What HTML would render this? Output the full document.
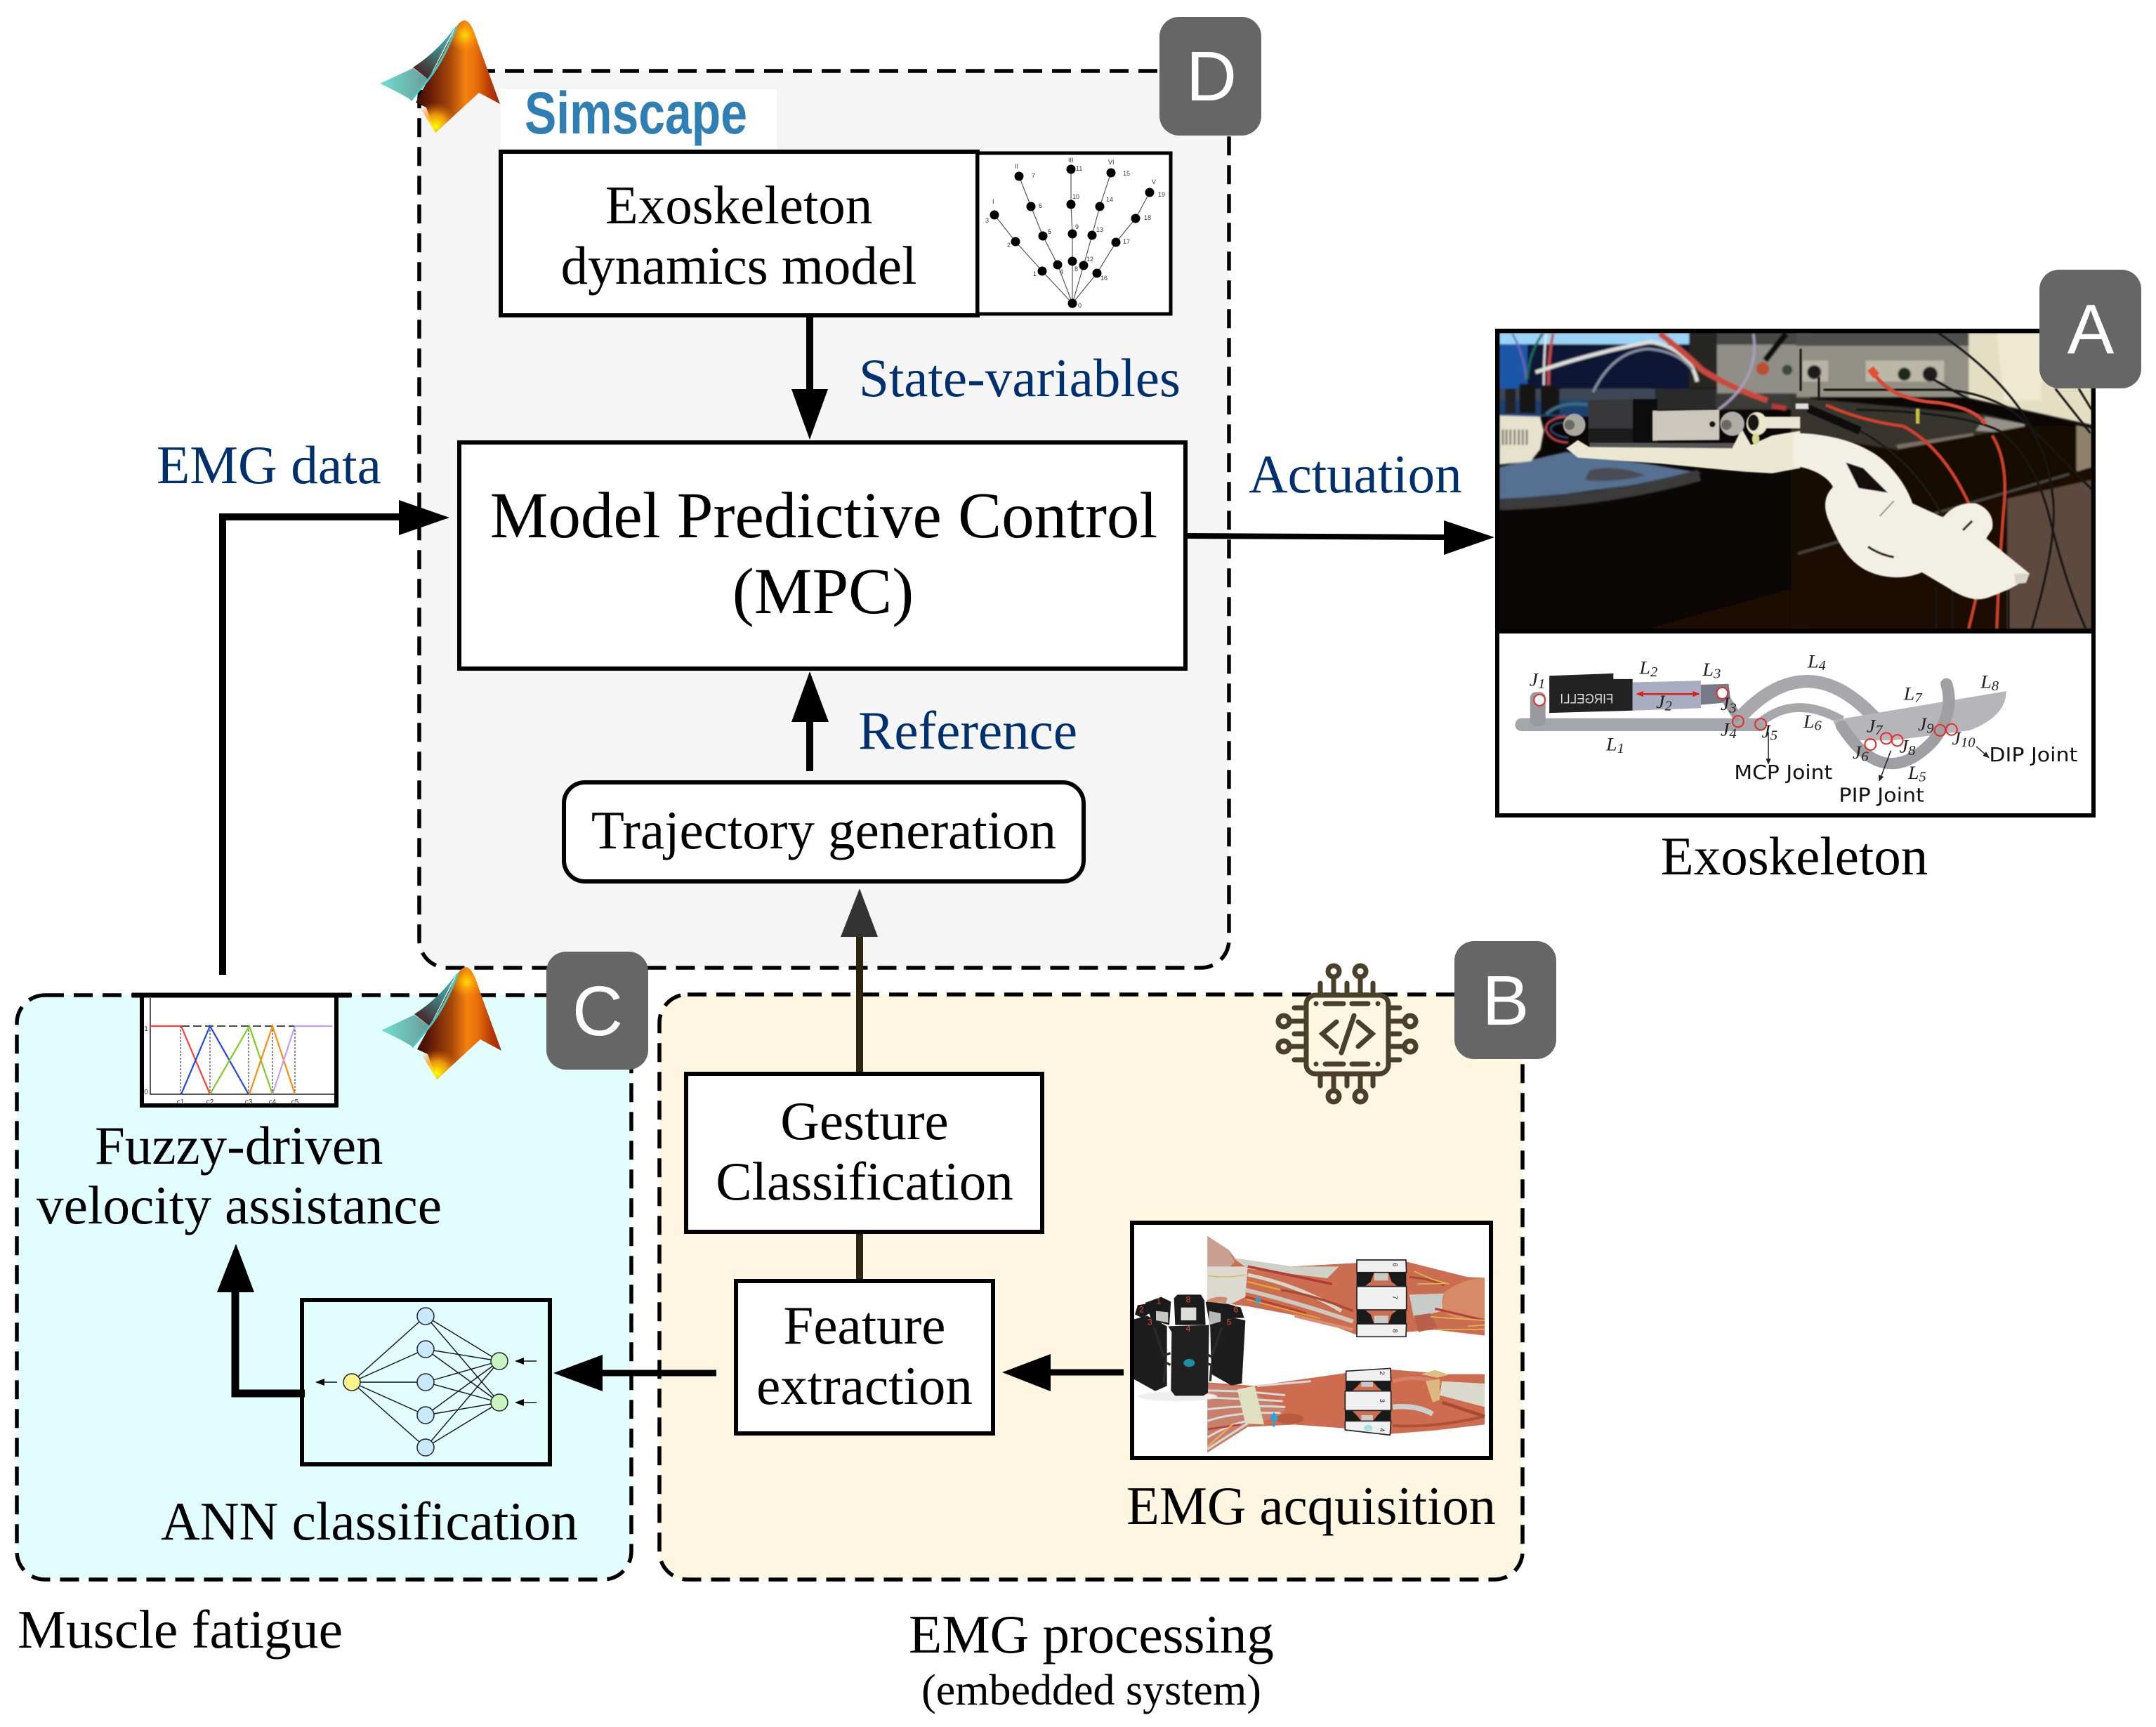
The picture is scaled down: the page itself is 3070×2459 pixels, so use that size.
<!DOCTYPE html>
<html><head><meta charset="utf-8"><style>
html,body{margin:0;padding:0;background:#fff}
svg{display:block}
text{font-family:"Liberation Serif",serif;fill:#000}
.t{font-size:77px}
.b{font-size:77px;fill:#00306e}
.g{font-family:"Liberation Sans",sans-serif;font-size:100px;fill:#fff;text-anchor:middle}
.m{font-family:"Liberation Serif",serif;font-style:italic;font-size:46px;fill:#222}
.j{font-family:"DejaVu Sans",sans-serif;font-size:48px;fill:#111}
.n{font-family:"Liberation Sans",sans-serif;font-size:9px;fill:#333}
.c{font-family:"Liberation Sans",sans-serif;font-size:10px;fill:#333;text-anchor:middle}
.r{font-family:"Liberation Sans",sans-serif;font-size:36px;fill:#e24a3a;text-anchor:middle}
.p{font-family:"Liberation Sans",sans-serif;font-size:28px;fill:#111;text-anchor:middle}
</style></head><body>
<svg xmlns="http://www.w3.org/2000/svg" width="3070" height="2459" viewBox="0 0 3070 2459">
<defs>
<linearGradient id="mg" gradientUnits="userSpaceOnUse" x1="590" x2="712" y1="0" y2="0"><stop offset="0" stop-color="#300c06"/><stop offset=".18" stop-color="#651c06"/><stop offset=".42" stop-color="#a8480a"/><stop offset=".6" stop-color="#f58210"/><stop offset=".72" stop-color="#e86f0a"/><stop offset=".88" stop-color="#b63a06"/><stop offset="1" stop-color="#a02a04"/></linearGradient>
<radialGradient id="my" gradientUnits="userSpaceOnUse" cx="620" cy="180" r="34"><stop offset="0" stop-color="#ffff00"/><stop offset=".5" stop-color="#ffa810" stop-opacity=".85"/><stop offset="1" stop-color="#e06a08" stop-opacity="0"/></radialGradient>
<radialGradient id="my2" gradientUnits="userSpaceOnUse" cx="662" cy="50" r="24"><stop offset="0" stop-color="#ffe000"/><stop offset="1" stop-color="#ff8a10" stop-opacity="0"/></radialGradient>
<linearGradient id="mt" gradientUnits="userSpaceOnUse" x1="541" x2="610" y1="0" y2="0"><stop offset="0" stop-color="#70e0d2"/><stop offset="1" stop-color="#6a9a98"/></linearGradient>
<linearGradient id="mw" gradientUnits="userSpaceOnUse" x1="600" y1="110" x2="640" y2="60"><stop offset="0" stop-color="#4a1f20"/><stop offset=".55" stop-color="#3f6f70"/><stop offset="1" stop-color="#3fa5a5"/></linearGradient>
<filter id="bl" x="-5%" y="-5%" width="110%" height="110%"><feGaussianBlur stdDeviation="4"/></filter>
<filter id="bs"><feGaussianBlur stdDeviation="2"/></filter>
<path id="mb" d="M661 29C668 29 674 40 680 60L712 148L682 132L620 189L607 153L592 146L610 113C625 88 640 55 650 38Q655 30 661 29Z"/>
<g id="matlab">
<path d="M541 119L588 97L610 113L585 142Q565 130 541 119Z" fill="url(#mt)"/>
<path d="M588 96Q625 72 648 38L610 113Z" fill="url(#mw)"/>
<use href="#mb" fill="url(#mg)"/>
<path d="M595 148L620 189L665 147L630 140Z" fill="url(#my)"/>
<use href="#mb" fill="url(#my2)"/>
<path d="M585 143L610 113Q632 85 650 38" fill="none" stroke="#4cc4c0" stroke-width="3"/>
</g>
</defs>

<!-- panels -->
<rect x="597" y="101" width="1153" height="1277" rx="40" fill="#f5f5f5" stroke="#000" stroke-width="5.5" stroke-dasharray="27 14"/>
<rect x="24" y="1417" width="875" height="832" rx="40" fill="#e2fdfe" stroke="#000" stroke-width="5.5" stroke-dasharray="27 14"/>
<rect x="939" y="1416" width="1229" height="833" rx="40" fill="#fef6e0" stroke="#000" stroke-width="5.5" stroke-dasharray="27 14"/>

<!-- Simscape -->
<rect x="713" y="127" width="393" height="88" fill="#fff"/>
<text x="747" y="190" textLength="317" lengthAdjust="spacingAndGlyphs" style="font-family:'Liberation Sans',sans-serif;font-weight:bold;font-size:84px;fill:#2f7fb5">Simscape</text>

<!-- Exoskeleton dynamics -->
<rect x="713" y="216" width="679" height="233" fill="#fff" stroke="#000" stroke-width="6"/>
<text class="t" x="1052" y="318" text-anchor="middle">Exoskeleton</text>
<text class="t" x="1052" y="404" text-anchor="middle">dynamics model</text>
<rect x="1392" y="218" width="275" height="229" fill="#fff" stroke="#000" stroke-width="5"/>
<g transform="translate(-5 0)">
<g stroke="#555" stroke-width="1.2" fill="none">
<polyline points="1532,432 1489,386 1451,344 1421,306"/>
<polyline points="1532,432 1511,377 1490,336 1473,294 1456,251"/>
<polyline points="1532,432 1532,372 1532,333 1530,291 1530,241"/>
<polyline points="1532,432 1548,378 1560,335 1571,294 1587,246"/>
<polyline points="1532,432 1567,389 1594,345 1622,311 1642,274"/>
</g>
<g fill="#000">
<circle cx="1532" cy="432" r="6.5"/><circle cx="1489" cy="386" r="6.5"/><circle cx="1451" cy="344" r="6.5"/><circle cx="1421" cy="306" r="6.5"/><circle cx="1511" cy="377" r="6.5"/><circle cx="1490" cy="336" r="6.5"/><circle cx="1473" cy="294" r="6.5"/><circle cx="1456" cy="251" r="6.5"/><circle cx="1532" cy="372" r="6.5"/><circle cx="1532" cy="333" r="6.5"/><circle cx="1530" cy="291" r="6.5"/><circle cx="1530" cy="241" r="6.5"/><circle cx="1548" cy="378" r="6.5"/><circle cx="1560" cy="335" r="6.5"/><circle cx="1571" cy="294" r="6.5"/><circle cx="1587" cy="246" r="6.5"/><circle cx="1567" cy="389" r="6.5"/><circle cx="1594" cy="345" r="6.5"/><circle cx="1622" cy="311" r="6.5"/><circle cx="1642" cy="274" r="6.5"/>
</g>
<text class="n" x="1418" y="290">I</text><text class="n" x="1450" y="240">II</text><text class="n" x="1526" y="231">III</text><text class="n" x="1583" y="234">VI</text><text class="n" x="1645" y="262">V</text>
<text class="n" x="1408" y="317">3</text><text class="n" x="1439" y="352">2</text><text class="n" x="1476" y="393">1</text><text class="n" x="1514" y="390">4</text><text class="n" x="1535" y="386">8</text><text class="n" x="1552" y="372">12</text><text class="n" x="1572" y="399">16</text><text class="n" x="1497" y="333">5</text><text class="n" x="1484" y="296">6</text><text class="n" x="1474" y="253">7</text><text class="n" x="1536" y="326">9</text><text class="n" x="1532" y="283">10</text><text class="n" x="1537" y="243">11</text><text class="n" x="1566" y="330">13</text><text class="n" x="1580" y="287">14</text><text class="n" x="1604" y="250">15</text><text class="n" x="1604" y="347">17</text><text class="n" x="1634" y="313">18</text><text class="n" x="1654" y="280">19</text><text class="n" x="1540" y="438">0</text>
</g>

<!-- logos -->
<use href="#matlab"/>
<use href="#matlab" transform="translate(2 1348)"/>

<!-- state arrow -->
<line x1="1153" y1="449" x2="1153" y2="565" stroke="#000" stroke-width="10"/>
<polygon points="1127,554 1179,554 1153,626" fill="#000"/>
<text class="b" x="1223" y="564" textLength="458" lengthAdjust="spacingAndGlyphs">State-variables</text>

<!-- MPC -->
<rect x="654" y="630" width="1034" height="322" fill="#fff" stroke="#000" stroke-width="6"/>
<text x="1173" y="765" text-anchor="middle" style="font-size:93px">Model Predictive Control</text>
<text x="1172" y="873" text-anchor="middle" style="font-size:93px">(MPC)</text>

<!-- reference -->
<line x1="1153" y1="1098" x2="1153" y2="1020" stroke="#000" stroke-width="10"/>
<polygon points="1127,1028 1180,1028 1153,956" fill="#000"/>
<text class="b" x="1222" y="1066">Reference</text>

<rect x="803" y="1114" width="740" height="141" rx="30" fill="#fff" stroke="#000" stroke-width="6"/>
<text class="t" x="1173" y="1208" text-anchor="middle">Trajectory generation</text>

<!-- EMG data -->
<polyline points="317,1388 317,736 580,736" fill="none" stroke="#000" stroke-width="10"/>
<polygon points="568,712 568,762 640,737" fill="#000"/>
<text class="b" x="223" y="688" textLength="320" lengthAdjust="spacingAndGlyphs">EMG data</text>

<!-- Actuation -->
<line x1="1688" y1="763" x2="2060" y2="765" stroke="#000" stroke-width="8"/>
<polygon points="2056,741 2056,790 2128,765" fill="#000"/>
<text class="b" x="1778" y="701">Actuation</text>

<!-- Gesture connector -->
<line x1="1224" y1="1527" x2="1224" y2="1325" stroke="#2e2510" stroke-width="10"/>
<polygon points="1197,1334 1250,1334 1224,1265" fill="#333"/>
<line x1="1224" y1="1752" x2="1224" y2="1823" stroke="#2e2510" stroke-width="10"/>
<rect x="977" y="1529" width="507" height="225" fill="#fff" stroke="#000" stroke-width="6"/>
<text class="t" x="1231" y="1622" text-anchor="middle">Gesture</text>
<text class="t" x="1231" y="1708" text-anchor="middle">Classification</text>
<rect x="1048" y="1824" width="366" height="217" fill="#fff" stroke="#000" stroke-width="6"/>
<text class="t" x="1231" y="1913" text-anchor="middle">Feature</text>
<text class="t" x="1231" y="1999" text-anchor="middle">extraction</text>

<!-- horizontal arrows -->
<line x1="1600" y1="1954" x2="1490" y2="1954" stroke="#000" stroke-width="9"/>
<polygon points="1496,1928 1496,1981 1427,1954" fill="#000"/>
<line x1="1020" y1="1955" x2="850" y2="1955" stroke="#000" stroke-width="9"/>
<polygon points="858,1929 858,1981 788,1955" fill="#000"/>

<!-- ANN -->
<rect x="430" y="1851" width="353" height="234" fill="#e2fdfe" stroke="#000" stroke-width="6"/>
<polyline points="434,1984 335,1984 335,1830" fill="none" stroke="#000" stroke-width="11"/>
<polygon points="309,1840 362,1840 336,1771" fill="#000"/>
<g stroke="#111" stroke-width="1.4">
<line x1="501" y1="1968" x2="606" y2="1874"/><line x1="501" y1="1968" x2="606" y2="1921"/><line x1="501" y1="1968" x2="606" y2="1968"/><line x1="501" y1="1968" x2="606" y2="2015"/><line x1="501" y1="1968" x2="606" y2="2061"/>
<line x1="711" y1="1938" x2="606" y2="1874"/><line x1="711" y1="1938" x2="606" y2="1921"/><line x1="711" y1="1938" x2="606" y2="1968"/><line x1="711" y1="1938" x2="606" y2="2015"/><line x1="711" y1="1938" x2="606" y2="2061"/>
<line x1="711" y1="1997" x2="606" y2="1874"/><line x1="711" y1="1997" x2="606" y2="1921"/><line x1="711" y1="1997" x2="606" y2="1968"/><line x1="711" y1="1997" x2="606" y2="2015"/><line x1="711" y1="1997" x2="606" y2="2061"/>
<line x1="764" y1="1938" x2="740" y2="1938"/><line x1="764" y1="1997" x2="740" y2="1997"/><line x1="480" y1="1968" x2="456" y2="1968"/>
</g>
<polygon points="733,1938 746,1933 746,1943" fill="#000"/><polygon points="733,1997 746,1992 746,2002" fill="#000"/><polygon points="449,1968 462,1963 462,1973" fill="#000"/>
<g stroke="#223" stroke-width="1.5" fill="#c8e8fb">
<circle cx="606" cy="1874" r="12"/><circle cx="606" cy="1921" r="12"/><circle cx="606" cy="1968" r="12"/><circle cx="606" cy="2015" r="12"/><circle cx="606" cy="2061" r="12"/>
<circle cx="501" cy="1968" r="12" fill="#fbf58c"/><circle cx="711" cy="1938" r="12" fill="#c8f5c0"/><circle cx="711" cy="1997" r="12" fill="#c8f5c0"/>
</g>
<text class="t" x="229" y="2192" textLength="594" lengthAdjust="spacingAndGlyphs">ANN classification</text>

<!-- Fuzzy -->
<rect x="202" y="1417" width="277" height="157" fill="#fff"/>
<line x1="188" y1="1417" x2="500" y2="1417" stroke="#000" stroke-width="7"/>
<polyline points="202,1417 202,1574 479,1574 479,1417" fill="none" stroke="#000" stroke-width="6"/>
<polyline points="214,1421 214,1558 476,1558" fill="none" stroke="#222" stroke-width="1.5"/>
<line x1="258" y1="1461" x2="420" y2="1461" stroke="#111" stroke-width="1.5" stroke-dasharray="12 5"/>
<g stroke="#222" stroke-width="1" stroke-dasharray="3 2"><line x1="257" y1="1461" x2="257" y2="1558"/><line x1="299" y1="1461" x2="299" y2="1558"/><line x1="354" y1="1461" x2="354" y2="1558"/><line x1="388" y1="1461" x2="388" y2="1558"/><line x1="420" y1="1461" x2="420" y2="1558"/></g>
<g fill="none" stroke-width="2.2">
<polyline stroke="#ff3b3b" points="214,1461 258,1461 299,1558"/>
<polyline stroke="#2244ee" points="258,1558 299,1461 354,1558"/>
<polyline stroke="#7ccc22" points="299,1558 355,1461 388,1558"/>
<polyline stroke="#ff8c10" points="355,1558 388,1461 420,1558"/>
<polyline stroke="#c49cf8" points="388,1558 420,1461 473,1461"/>
</g>
<text class="c" x="257" y="1572">c1</text><text class="c" x="299" y="1572">c2</text><text class="c" x="354" y="1572">c3</text><text class="c" x="388" y="1572">c4</text><text class="c" x="420" y="1572">c5</text>
<text class="c" x="208" y="1468">1</text><text class="c" x="208" y="1558">0</text>
<text class="t" x="135" y="1657">Fuzzy-driven</text>
<text class="t" x="52" y="1742" textLength="577" lengthAdjust="spacingAndGlyphs">velocity assistance</text>

<!-- chip icon -->
<g fill="none" stroke="#4a3f28" stroke-width="7" stroke-linecap="round">
<rect x="1860" y="1417" width="117" height="112" rx="13"/>
<path d="M1903 1455L1883 1472L1903 1490M1934 1455L1954 1472L1934 1490M1928 1446L1910 1499"/>
<path d="M1843 1435H1860M1843 1472H1860M1843 1509H1860M1993 1435H1977M1993 1472H1977M1993 1509H1977"/>
<path d="M1837 1454H1860M1837 1490H1860M2000 1454H1977M2000 1490H1977"/>
<circle cx="1828" cy="1454" r="8"/><circle cx="1828" cy="1490" r="8"/><circle cx="2008" cy="1454" r="8"/><circle cx="2008" cy="1490" r="8"/>
<path d="M1880 1400V1417M1918 1400V1417M1955 1400V1417M1880 1546V1529M1918 1546V1529M1955 1546V1529"/>
<path d="M1899 1392V1417M1937 1392V1417M1899 1552V1529M1937 1552V1529"/>
<circle cx="1899" cy="1383" r="8"/><circle cx="1937" cy="1383" r="8"/><circle cx="1899" cy="1561" r="8"/><circle cx="1937" cy="1561" r="8"/>
<path d="M1887 1429H1913M1925 1429H1948M1887 1515H1913M1925 1515H1948"/>
</g>
<g fill="#4a3f28"><circle cx="1874" cy="1429" r="3.5"/><circle cx="1962" cy="1429" r="3.5"/><circle cx="1874" cy="1515" r="3.5"/><circle cx="1962" cy="1515" r="3.5"/></g>

<!-- EMG acquisition -->
<rect x="1612" y="1741" width="511" height="335" fill="#fff" stroke="#000" stroke-width="6"/>
<g transform="translate(1610 1740) scale(.33333)">
<polygon points="328,60 420,120 445,155 690,190 960,175 1180,170 1440,235 1512,238 1512,485 1300,460 1180,470 960,480 790,415 500,360 420,350 328,370" fill="#cb6d50"/>
<polygon points="328,685 530,700 920,645 1110,630 1360,650 1512,650 1512,865 1300,890 1110,905 900,880 700,865 500,875 328,985" fill="#cd6c4e"/>
<g>
<path d="M328 60L420 120L445 170L420 195L328 190Z" fill="#c9a090"/>
<polygon points="328,190 500,190 490,320 430,350 328,370" fill="#dcdad0"/>
<polygon points="440,155 690,190 890,190 840,240 500,200" fill="#cfd1c6"/>
<path d="M330 345Q370 325 410 335" stroke="#d08a70" stroke-width="24" fill="none"/>
<g fill="none">
<path d="M500 190Q700 230 860 265" stroke="#b23c34" stroke-width="11"/>
<path d="M500 225Q720 270 900 380" stroke="#d7d5ca" stroke-width="15"/>
<path d="M490 290Q700 340 950 425" stroke="#ccc9bd" stroke-width="18"/>
<path d="M500 255L640 290" stroke="#dfae2e" stroke-width="7"/>
<path d="M490 320Q620 350 750 390" stroke="#b8413a" stroke-width="10"/>
<path d="M495 330Q650 370 810 412" stroke="#dfae2e" stroke-width="5"/>
<path d="M330 230Q420 240 490 225" stroke="#d8b840" stroke-width="4"/>
<path d="M640 290Q780 310 950 380" stroke="#a94a34" stroke-width="10"/>
<path d="M700 400Q820 430 950 460" stroke="#dc8d72" stroke-width="14"/>
<path d="M1190 235Q1270 240 1340 270" stroke="#aa4a34" stroke-width="9"/>
</g>
<polygon points="1190,310 1340,305 1330,380 1210,410" fill="#c8ccc8"/>
<path d="M1340 300Q1420 240 1512 240V420Q1380 420 1340 385Q1320 340 1340 300Z" fill="#d68a68"/>
<polygon points="1210,400 1280,390 1310,450 1230,470" fill="#b8604a"/>
<path d="M1300 370L1512 420" stroke="#b8413a" stroke-width="10" fill="none"/>
<path d="M1210 210L1290 245L1360 265M1225 265L1350 262M1280 405L1512 420M1310 460L1512 458M1440 445L1512 440" stroke="#dcb84c" stroke-width="5" fill="none"/>

<polygon points="328,690 480,705 660,800 640,830 500,870 328,985" fill="#c9806a"/>
<g fill="none" stroke="#d5d9da" stroke-width="9">
<path d="M328 720Q480 720 660 740"/><path d="M328 750Q480 755 650 765"/><path d="M328 800Q480 780 660 790"/><path d="M328 850Q440 810 640 815"/><path d="M328 920Q430 860 500 850"/><path d="M328 970Q420 910 500 860"/><path d="M540 700Q660 690 770 680"/>
</g>
<polygon points="455,715 530,700 570,865 490,860" fill="#dfe0c2"/>
<path d="M330 885L470 865" stroke="#b8413a" stroke-width="8" fill="none"/>
<path d="M328 960L440 860" stroke="#e0b060" stroke-width="7" fill="none"/>
<ellipse cx="680" cy="840" rx="60" ry="22" fill="#b85a3e"/>
<path d="M1120 680Q1220 650 1330 690" stroke="#d88068" stroke-width="16" fill="none"/>
<polygon points="1330,680 1512,690 1512,790 1320,740" fill="#d9d9cc"/>
<polygon points="1260,680 1320,670 1320,760 1290,770" fill="#dcb880"/>
<polygon points="1240,650 1300,632 1360,652 1310,665" fill="#dcc080"/>
<path d="M1120 790Q1220 780 1290 820" stroke="#c8d0d0" stroke-width="22" fill="none"/>
<path d="M1120 870Q1300 880 1512 830" stroke="#ad5138" stroke-width="12" fill="none"/>
<path d="M1330 770L1512 830" stroke="#a94a34" stroke-width="14" fill="none"/>
</g>
<g fill="#1a1a1a">
<path d="M965 215H1040L1025 255L1000 275H965Z M1177 215H1100L1115 255L1140 275H1177Z M965 435H1040L1025 395L1000 375H965Z M1177 435H1100L1115 395L1140 375H1177Z"/>
<path d="M918 682H985L965 705L945 722H918Z M1112 682H1035L1055 705L1075 722H1112Z M915 850H985L965 825L945 805H915Z M1112 850H1035L1055 825L1075 805H1112Z"/>
</g>
<rect x="1040" y="215" width="60" height="35" fill="#c9c9c6"/><rect x="1040" y="400" width="60" height="35" fill="#c9c9c6"/>
<rect x="985" y="682" width="50" height="22" fill="#c9c9c6"/><rect x="985" y="825" width="50" height="25" fill="#c9c9c6"/>
<g fill="#f0f0f0" stroke="#222" stroke-width="5">
<path d="M966 162H1176L1178 215H966Z"/><rect x="966" y="275" width="212" height="100"/><path d="M966 435H1178L1176 490H966Z"/>
<path d="M920 637L1110 625L1112 680H920Z"/><rect x="916" y="722" width="196" height="83"/><path d="M916 850H1112L1108 910L916 888Z"/>
</g>
<ellipse cx="1015" cy="880" rx="18" ry="14" fill="#a8e0e8"/>
<text class="p" transform="translate(1120 183) rotate(90)" x="0" y="0">6</text>
<text class="p" transform="translate(1120 322) rotate(90)" x="0" y="0">7</text>
<text class="p" transform="translate(1120 465) rotate(90)" x="0" y="0">8</text>
<text class="p" transform="translate(1065 645) rotate(90)" x="0" y="0">2</text>
<text class="p" transform="translate(1065 763) rotate(90)" x="0" y="0">3</text>
<text class="p" transform="translate(1065 888) rotate(90)" x="0" y="0">4</text>
<ellipse cx="200" cy="745" rx="170" ry="20" fill="#eee" filter="url(#bs)"/>
<g fill="#1b1b1b">
<polygon points="62,345 130,320 172,340 165,440 90,420"/>
<polygon points="18,395 30,355 65,350 80,390 50,410"/>
<polygon points="185,325 200,310 300,310 315,335 320,440 190,440"/>
<polygon points="320,340 415,350 470,365 485,410 430,410 340,450"/>
</g>
<rect x="215" y="365" width="65" height="55" fill="#dcdcd8"/>
<polygon points="108,380 160,385 160,430 108,420" fill="#c6c6c2"/>
<polygon points="335,380 385,390 385,425 335,440" fill="#b8b8b4"/>
<polygon points="15,415 70,400 155,445 155,700 105,722 15,672" fill="#1d1d1d"/>
<polygon points="340,450 420,405 490,420 475,690 430,698 345,650" fill="#1d1d1d"/>
<polygon points="160,445 335,440 330,730 310,742 190,742 172,720 175,470" fill="#202020"/>
<g fill="none" stroke="#2a2a2a" stroke-width="10"><path d="M100 450L140 570L170 560M390 450L345 575L325 565M140 690L150 600L170 610M340 680L345 610L325 605"/></g>
<ellipse cx="250" cy="602" rx="24" ry="17" fill="#1d8ea0"/>
<text class="r" x="120" y="350">1</text><text class="r" x="46" y="386">2</text><text class="r" x="82" y="440">3</text><text class="r" x="246" y="343">8</text><text class="r" x="246" y="468">4</text><text class="r" x="420" y="440">5</text><text class="r" x="450" y="386">6</text>
<path d="M543 360V325M530 340L543 322L556 340" stroke="#18a8e8" stroke-width="6" fill="none"/>
<path d="M612 875V822M596 845L612 820L628 845" stroke="#18a8e8" stroke-width="9" fill="none"/>
</g>
<text class="t" x="1604" y="2170" textLength="526" lengthAdjust="spacingAndGlyphs">EMG acquisition</text>

<!-- Exoskeleton photo -->
<rect x="2132" y="471" width="849" height="690" fill="#fff" stroke="#000" stroke-width="6"/>
<svg x="2135" y="474" width="843" height="422" viewBox="2135 474 843 422">
<rect x="2135" y="474" width="843" height="422" fill="#0b0706"/>
<!-- left background -->
<g transform="translate(2130 470) scale(.33333)">
<g filter="url(#bl)">
<polygon points="650,1275 1350,1080 1350,1275" fill="#1c0b06"/>
<rect x="15" y="12" width="815" height="50" fill="#9bd4f6"/>
<rect x="15" y="60" width="815" height="195" fill="#071634"/>
<rect x="15" y="60" width="120" height="190" fill="#1c56a8"/>
<rect x="15" y="250" width="700" height="55" fill="#3c4656"/>
<rect x="15" y="300" width="400" height="70" fill="#1f3f70"/>
<rect x="680" y="250" width="300" height="90" fill="#2c2c2c"/>
<rect x="825" y="12" width="130" height="235" fill="#262624"/>
<rect x="945" y="60" width="400" height="220" fill="#8f8f88"/>
<rect x="945" y="12" width="400" height="50" fill="#474744"/>
<rect x="940" y="270" width="400" height="70" fill="#3a3a38"/>
<path d="M15 585L300 520L640 570 880 610 600 660 300 700 15 725Z" fill="#566f92"/>
<path d="M400 600Q500 570 640 620 500 655 380 640Z" fill="#4a4c55"/>
<path d="M15 745Q480 730 870 620" fill="none" stroke="#3a3a3a" stroke-width="50"/>
<path d="M15 365L190 370L205 430L190 510L150 560L15 575Z" fill="#e6e2cd"/>
<g stroke="#555" stroke-width="7"><path d="M30 425V490M45 425V490M62 425V490M80 425V490M98 425V490M115 425V490M132 425V490"/></g>
<rect x="100" y="230" width="70" height="125" fill="#151515"/><rect x="192" y="235" width="80" height="125" fill="#151515"/><rect x="40" y="250" width="45" height="105" fill="#222"/>
<g fill="none">
<path d="M70 15Q120 100 130 210" stroke="#6a6ab0" stroke-width="8"/>
<path d="M200 15Q140 100 135 210" stroke="#1a6a5a" stroke-width="10"/>
<path d="M245 15Q225 100 225 235" stroke="#c84a4a" stroke-width="12"/>
<path d="M215 15Q205 100 205 235" stroke="#e8e8e8" stroke-width="8"/>
<path d="M170 180Q400 100 660 50Q830 80 860 220" stroke="#dfdfdc" stroke-width="16"/>
<path d="M415 265Q500 90 650 80Q780 90 840 170" stroke="#8c92a8" stroke-width="10"/>
<path d="M700 15Q800 90 880 170Q1010 250 1160 300" stroke="#c84a3c" stroke-width="24"/>
<path d="M1180 325L1240 335" stroke="#b83a30" stroke-width="22"/>
<path d="M950 340Q1130 210 1100 15" stroke="#a9a0c0" stroke-width="10"/>
<path d="M1240 15L1150 130" stroke="#111" stroke-width="26"/>
<path d="M215 360Q280 300 395 320" stroke="#3a6a80" stroke-width="14"/>
<path d="M300 370Q205 380 215 430Q240 480 310 480" stroke="#c84a4a" stroke-width="10"/>
<path d="M300 395Q230 395 235 430Q260 455 310 460" stroke="#30508a" stroke-width="8"/>
</g>
<circle cx="1140" cy="165" r="28" fill="#b85030"/><circle cx="1245" cy="170" r="22" fill="#3a4a38"/>
</g>
</g>
<!-- right background -->
<g transform="translate(2560 470) scale(.33333)">
<g filter="url(#bl)">
<rect x="-6" y="60" width="741" height="227" fill="#928f84"/>
<rect x="-6" y="12" width="741" height="55" fill="#4f4f4e"/>
<rect x="20" y="130" width="110" height="90" fill="#b8b4a4"/><rect x="290" y="130" width="335" height="90" fill="#bcb8a8"/>
<circle cx="70" cy="180" r="30" fill="#1e1e1e"/><circle cx="455" cy="188" r="28" fill="#1c2a1e"/><circle cx="565" cy="188" r="32" fill="#1f1f1f"/>
<polygon points="730,12 1255,12 1255,405 730,290" fill="#e4dec2"/>
<polygon points="850,12 1040,12 1040,300 880,300" fill="#efe9d2"/>
<polygon points="-30,285 800,360 975,400 950,445 420,515 -30,440" fill="#38342e"/>
<polygon points="800,370 975,402 940,440 760,430" fill="#96928a"/>
<polygon points="420,490 750,440 750,455 430,510" fill="#7c7066"/>
<polygon points="-30,440 420,510 975,410 1190,410 1190,560 1255,640 -30,970" fill="#120806"/>
<polygon points="1190,405 1255,420 1255,650 1190,600" fill="#8e806a"/>
<polygon points="-30,970 1255,585 1255,1275 -30,1275" fill="#1c0b06"/>
<polygon points="895,720 1255,640 1255,1275 895,1275" fill="#5d483e"/>
<path d="M0 955L1160 615" stroke="#4a4642" stroke-width="10" fill="none"/>
</g>
</g>
<!-- left foreground -->
<g transform="translate(2130 470) scale(.33333)" filter="url(#bs)">
<polygon points="395,300 590,295 590,482 395,482" fill="#38383b"/>
<polygon points="395,420 590,420 590,482 395,482" fill="#1b1b1c"/>
<rect x="585" y="295" width="105" height="195" fill="#0c0c0c"/>
<polygon points="670,345 955,340 955,470 670,472" fill="#cbc7bd"/>
<circle cx="925" cy="402" r="13" fill="#111"/>
<rect x="400" y="482" width="620" height="26" fill="#555"/>
<path d="M300 505L350 470L400 500L1010 505L1050 420L1090 490L1180 450L1300 430V590L1180 612L1060 605L900 590L700 570L350 545Z" fill="#ebe7d2"/>
<circle cx="335" cy="405" r="48" fill="#a8a89f"/><circle cx="315" cy="405" r="22" fill="#6a6a64"/>
<circle cx="1010" cy="400" r="52" fill="#aeaea6"/><circle cx="985" cy="405" r="22" fill="#6a6a64"/>
<ellipse cx="1115" cy="400" rx="45" ry="50" fill="#ebe6c8"/><ellipse cx="1100" cy="395" rx="24" ry="35" fill="#181818"/>
<ellipse cx="1110" cy="465" rx="16" ry="24" fill="#d8d88a"/>
<rect x="1150" y="370" width="150" height="50" fill="#e8e4d2"/>
</g>
<!-- right foreground -->
<g transform="translate(2560 470) scale(.33333)" filter="url(#bs)" fill="none">
<g stroke="#151515" stroke-width="9">
<path d="M110 255H640Q880 280 990 415Q1070 530 1090 720Q1110 900 1000 1275"/>
<path d="M250 340Q700 350 860 430Q1010 540 1075 800Q1150 1100 1230 1275"/>
<path d="M600 12Q880 200 1000 420L1255 680"/>
<path d="M1100 250L1250 440"/>
<path d="M1200 250L1255 340"/>
<path d="M660 1100V1275M590 1100V1275M900 1100V1275"/>
<path d="M12 80V260M90 200V300"/>
<path d="M560 200L720 290"/>
</g>
<path d="M45 335L265 430" stroke="#111" stroke-width="34"/>
<path d="M265 430Q500 560 620 800" stroke="#1a1a1a" stroke-width="9"/>
<path d="M325 185Q400 300 600 310Q760 335 800 400" stroke="#d84630" stroke-width="15"/>
<path d="M830 450Q900 560 880 760Q860 1000 850 1275" stroke="#c73f2c" stroke-width="14"/>
<path d="M120 320Q280 390 450 410Q620 500 730 740" stroke="#d0402c" stroke-width="14"/>
<path d="M760 1150L730 1275" stroke="#c73f2c" stroke-width="14"/>
<path d="M335 170L310 190" stroke="#e85030" stroke-width="40"/>
<path d="M512 335V400" stroke="#c8c040" stroke-width="16"/>
<path d="M-10 325L45 325" stroke="#ddd" stroke-width="24"/>
<path fill="#f2efe5" d="M-20 440C150 440 300 490 380 570C430 620 470 680 490 740L620 800C650 760 700 735 760 740C820 760 840 810 830 850L805 890L990 1040C970 1080 900 1110 820 1140C760 1165 700 1140 640 1100L530 1035C450 1070 350 1060 280 1020C200 970 170 900 130 810C110 760 110 710 150 670C130 630 70 590 -20 580Z"/>
<polygon points="205,565 280,590 385,695 260,675" fill="#120a08"/>
<path d="M300 925Q350 960 410 970" stroke="#1a1008" stroke-width="10"/>
<path d="M350 795L410 730" stroke="#777" stroke-width="5"/>
<path d="M705 855L745 815" stroke="#220" stroke-width="10"/>
<path d="M925 1040L990 1040L975 1080L930 1085Z" fill="#d8d4ca"/>
</g>
</svg>
<line x1="2132" y1="899" x2="2981" y2="899" stroke="#000" stroke-width="6"/>

<!-- mechanism -->
<g transform="translate(2118 370) scale(.608 .575)">
<rect x="65" y="1135" width="590" height="32" rx="15" fill="#a5a6ab"/>
<rect x="100" y="1070" width="36" height="85" rx="14" fill="#9a9a9e"/>
<path d="M145 1030L295 1024V1038H340V1116L145 1122Z" fill="#222"/>
<polygon points="340,1046 500,1042 500,1110 340,1116" fill="#a7acc0"/>
<polygon points="500,1052 565,1050 570,1095 500,1102" fill="#777a86"/>
<path d="M560 1090L590 1140" stroke="#9a9a9e" stroke-width="22"/>
<path d="M590 1135Q750 950 912 1140" fill="none" stroke="#a8a8ac" stroke-width="32"/>
<path d="M640 1145Q720 1075 830 1140" fill="none" stroke="#a8a8ac" stroke-width="22"/>
<path d="M810 1140L1215 1068Q1215 1130 1130 1165L950 1190 860 1190Q815 1170 810 1140Z" fill="#b6b6ba"/>
<path d="M830 1155Q930 1320 1045 1190Q1095 1120 1075 1050" fill="none" stroke="#a0a0a4" stroke-width="28" stroke-linecap="round"/>
<text transform="translate(295 1098) scale(-1 1)" x="0" y="0" style="font-family:'Liberation Sans',sans-serif;font-size:34px;fill:#ddd" textLength="125" lengthAdjust="spacingAndGlyphs">FIRGELLI</text>
<line x1="352" y1="1075" x2="495" y2="1075" stroke="#e01818" stroke-width="4"/>
<polygon points="348,1075 365,1068 365,1082" fill="#e01818"/><polygon points="498,1075 481,1068 481,1082" fill="#e01818"/>
<g fill="#fff" stroke="#e23030" stroke-width="3.5"><ellipse cx="122" cy="1090" rx="13" ry="14"/><ellipse cx="550" cy="1073" rx="13" ry="14"/></g>
<g fill="none" stroke="#e23030" stroke-width="3.5"><ellipse cx="587" cy="1143" rx="13" ry="14"/><ellipse cx="640" cy="1150" rx="13" ry="14"/><ellipse cx="897" cy="1200" rx="13" ry="14"/><ellipse cx="934" cy="1185" rx="13" ry="14"/><ellipse cx="960" cy="1190" rx="13" ry="14"/><ellipse cx="1060" cy="1165" rx="13" ry="14"/><ellipse cx="1087" cy="1163" rx="13" ry="14"/></g>
<text class="m" x="98" y="1055">J<tspan font-size="34" dy="6">1</tspan></text>
<text class="m" x="356" y="1025">L<tspan font-size="34" dy="6">2</tspan></text>
<text class="m" x="395" y="1110">J<tspan font-size="34" dy="6">2</tspan></text>
<text class="m" x="504" y="1030">L<tspan font-size="34" dy="6">3</tspan></text>
<text class="m" x="546" y="1115">J<tspan font-size="34" dy="6">3</tspan></text>
<text class="m" x="546" y="1178">J<tspan font-size="34" dy="6">4</tspan></text>
<text class="m" x="642" y="1183">J<tspan font-size="34" dy="6">5</tspan></text>
<text class="m" x="750" y="1010">L<tspan font-size="34" dy="6">4</tspan></text>
<text class="m" x="740" y="1158">L<tspan font-size="34" dy="6">6</tspan></text>
<text class="m" x="278" y="1215">L<tspan font-size="34" dy="6">1</tspan></text>
<text class="m" x="975" y="1090">L<tspan font-size="34" dy="6">7</tspan></text>
<text class="m" x="1155" y="1060">L<tspan font-size="34" dy="6">8</tspan></text>
<text class="m" x="888" y="1170">J<tspan font-size="34" dy="6">7</tspan></text>
<text class="m" x="965" y="1220">J<tspan font-size="34" dy="6">8</tspan></text>
<text class="m" x="855" y="1235">J<tspan font-size="34" dy="6">6</tspan></text>
<text class="m" x="1008" y="1165">J<tspan font-size="34" dy="6">9</tspan></text>
<text class="m" x="1088" y="1200">J<tspan font-size="34" dy="6">10</tspan></text>
<text class="m" x="985" y="1285">L<tspan font-size="34" dy="6">5</tspan></text>
<path d="M658 1170V1240M945 1215L920 1285M1145 1205L1172 1230" stroke="#222" stroke-width="2.5" fill="none"/>
<polygon points="658,1250 652,1235 664,1235" fill="#222"/><polygon points="917,1292 916,1275 928,1280" fill="#222"/><polygon points="1176,1234 1160,1228 1168,1218" fill="#222"/>
<text class="j" x="578" y="1285" textLength="230" lengthAdjust="spacingAndGlyphs">MCP Joint</text>
<text class="j" x="823" y="1342" textLength="200" lengthAdjust="spacingAndGlyphs">PIP Joint</text>
<text class="j" x="1175" y="1242" textLength="207" lengthAdjust="spacingAndGlyphs">DIP Joint</text>
</g>
<text class="t" x="2555" y="1245" text-anchor="middle">Exoskeleton</text>

<!-- badges -->
<rect x="1651" y="24" width="145" height="169" rx="28" fill="#666"/>
<text class="g" x="1725" y="143">D</text>
<rect x="2904" y="384" width="145" height="169" rx="28" fill="#666"/>
<text class="g" x="2977" y="503">A</text>
<rect x="778" y="1355" width="145" height="168" rx="28" fill="#666"/>
<text class="g" x="851" y="1474">C</text>
<rect x="2071" y="1340" width="145" height="168" rx="28" fill="#666"/>
<text class="g" x="2144" y="1459">B</text>

<!-- bottom labels -->
<text class="t" x="25" y="2346" textLength="463" lengthAdjust="spacingAndGlyphs">Muscle fatigue</text>
<text class="t" x="1554" y="2353" text-anchor="middle">EMG processing</text>
<text x="1554" y="2427" text-anchor="middle" style="font-size:62px">(embedded system)</text>
</svg>
</body></html>
